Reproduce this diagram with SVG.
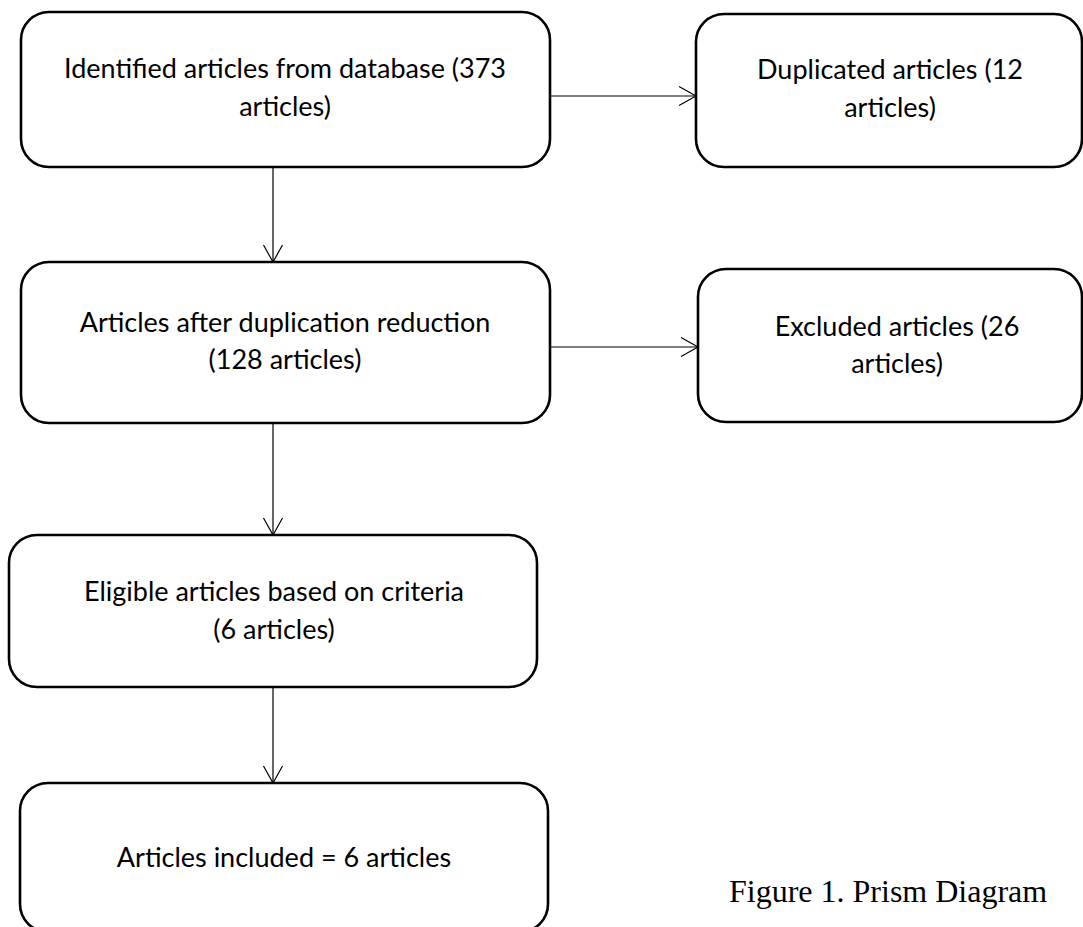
<svg xmlns="http://www.w3.org/2000/svg" width="1083" height="927" viewBox="0 0 1083 927">
  <style>
    .box { fill: #ffffff; stroke: #000000; stroke-width: 2.6; }
    .lbl { font-family: Lato, "Open Sans", "Liberation Sans", sans-serif; font-size: 27px; fill: #000000; text-anchor: middle; }
    .cap { font-family: "Liberation Serif", "Times New Roman", serif; font-size: 32px; fill: #000000; }
    .conn { fill: none; stroke: #000000; stroke-width: 1.2; }
  </style>
  <defs>
    <marker id="arr" markerUnits="userSpaceOnUse" markerWidth="20" markerHeight="22" viewBox="0 0 20 22" refX="18" refY="11" orient="auto">
      <polyline points="1,1.5 18,11 1,20.5" fill="none" stroke="#000000" stroke-width="1.2"/>
    </marker>
  </defs>
  <rect width="1083" height="927" fill="#ffffff"/>

  <g id="connectors">
    <line class="conn" x1="550" y1="96" x2="696" y2="96" marker-end="url(#arr)"/>
    <line class="conn" x1="550" y1="347" x2="698" y2="347" marker-end="url(#arr)"/>
    <line class="conn" x1="273" y1="167" x2="273" y2="262" marker-end="url(#arr)"/>
    <line class="conn" x1="273" y1="423" x2="273" y2="535" marker-end="url(#arr)"/>
    <line class="conn" x1="273" y1="687" x2="273" y2="783" marker-end="url(#arr)"/>
  </g>

  <g id="identified">
    <rect class="box" x="21" y="12" width="529" height="155" rx="28" ry="28"/>
    <text class="lbl" x="285" y="78">Identified articles from database (373</text>
    <text class="lbl" x="285" y="116">articles)</text>
  </g>

  <g id="duplicated">
    <rect class="box" x="696" y="14" width="386" height="153" rx="28" ry="28"/>
    <text class="lbl" x="890" y="79">Duplicated articles (12</text>
    <text class="lbl" x="890" y="117">articles)</text>
  </g>

  <g id="after-dedup">
    <rect class="box" x="21" y="262" width="529" height="161" rx="28" ry="28"/>
    <text class="lbl" x="285" y="332">Articles after duplication reduction</text>
    <text class="lbl" x="285" y="369">(128 articles)</text>
  </g>

  <g id="excluded">
    <rect class="box" x="698" y="269" width="384" height="153" rx="28" ry="28"/>
    <text class="lbl" x="897" y="336">Excluded articles (26</text>
    <text class="lbl" x="897" y="373">articles)</text>
  </g>

  <g id="eligible">
    <rect class="box" x="9" y="535" width="528" height="152" rx="28" ry="28"/>
    <text class="lbl" x="274" y="601">Eligible articles based on criteria</text>
    <text class="lbl" x="274" y="639">(6 articles)</text>
  </g>

  <g id="included">
    <rect class="box" x="20" y="783" width="528" height="149" rx="28" ry="28"/>
    <text class="lbl" x="284" y="867">Articles included = 6 articles</text>
  </g>

  <g id="caption">
    <text class="cap" x="729" y="902">Figure 1. Prism Diagram</text>
  </g>
</svg>
